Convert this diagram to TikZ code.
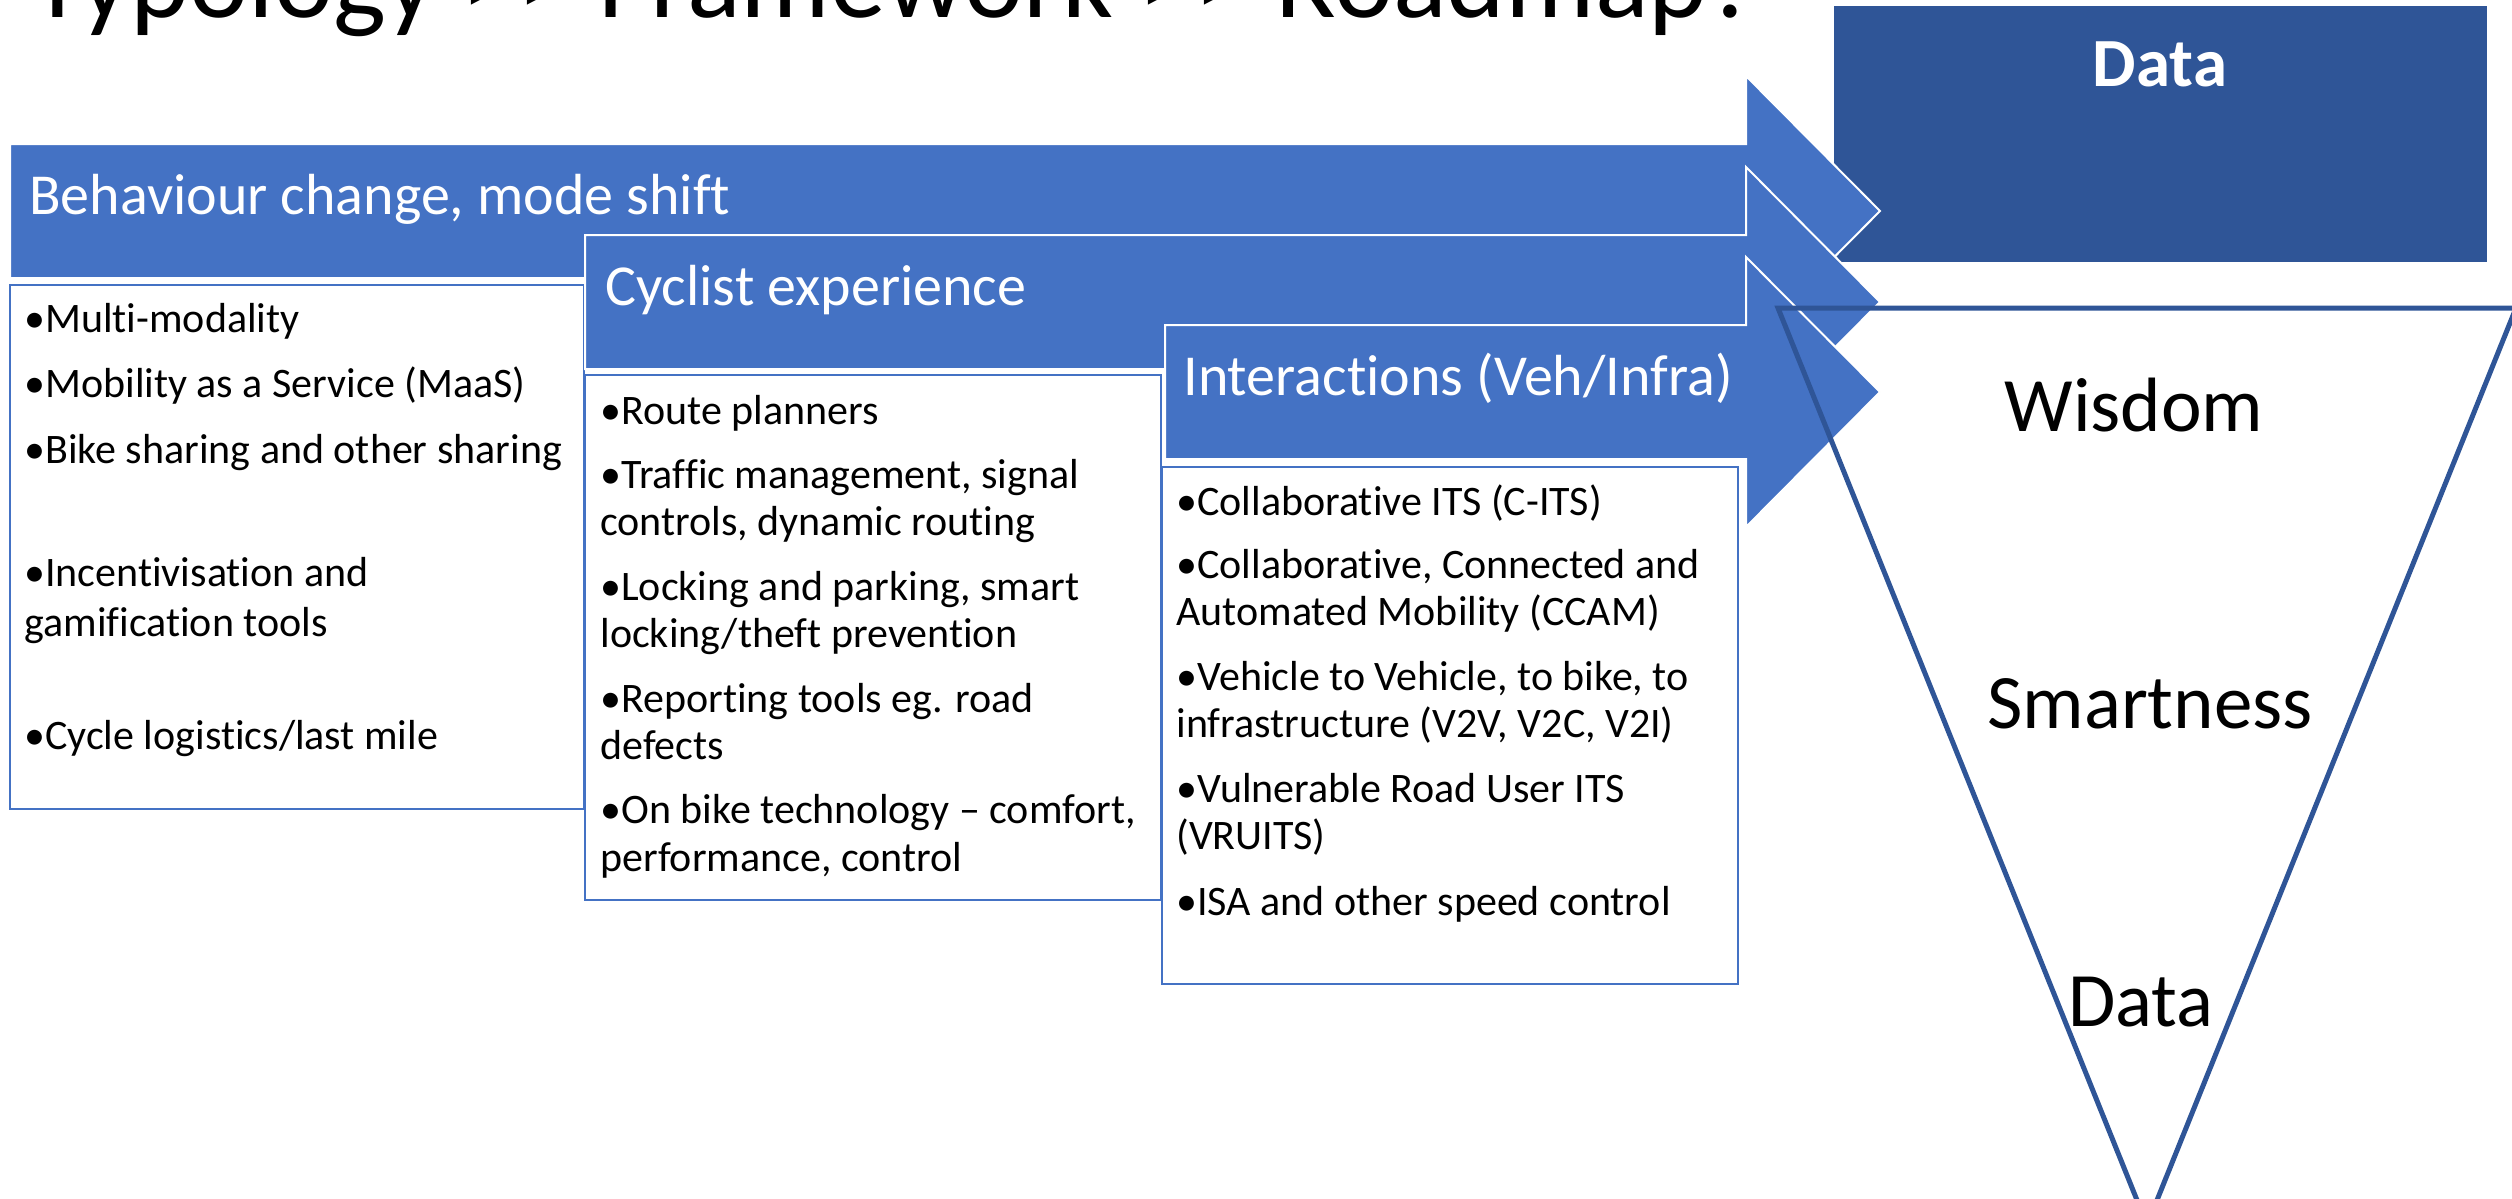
\documentclass[tikz,border=0pt]{standalone}
\usepackage{fontspec}
\setmainfont{Carlito}[Ligatures={NoCommon}]
\definecolor{arrowblue}{HTML}{4472C4}
\definecolor{darkblue}{HTML}{2F5597}
\tikzset{
  flowarrow/.style={fill=arrowblue, draw=white, line width=1pt, line join=miter},
  listbox/.style={draw=arrowblue, line width=1.25pt, fill=white},
  headtxt/.style={anchor=base west, inner sep=0pt, text=white, font=\fontsize{29pt}{34pt}\selectfont},
  bodytxt/.style={anchor=base west, inner sep=0pt, font=\fontsize{21pt}{25pt}\selectfont},
  pyrtxt/.style={anchor=base, inner sep=0pt, font=\fontsize{38.5pt}{46pt}\selectfont},
}
\begin{document}
\begin{tikzpicture}[x=0.5pt,y=-0.5pt]
\useasboundingbox (0,0) rectangle (2512,1199);
\clip (0,0) rectangle (2512,1199);
\fill[white] (0,0) rectangle (2512,1199);

% title (cut at the top, as in the reference)
\node[anchor=base west, inner sep=0pt, font=\fontsize{56pt}{60pt}\selectfont] (title) at (30,18) {Typology >\kern0pt> Framework >\kern0pt> Roadmap?};

% Data box
\fill[darkblue] (1834,6) rectangle (2487,262);
\node[anchor=base, inner sep=0pt, text=white, font=\fontsize{34.5pt}{40pt}\selectfont\bfseries] (datahead) at (2160,86) {Data};

% list boxes
\draw[listbox] (10,285) rectangle (584,809);
\draw[listbox] (585,375) rectangle (1161,900);
\draw[listbox] (1162,467) rectangle (1738,984);

% arrows
\path[flowarrow] (10,144) -- (1746,144) -- (1746,76) -- (1880,211) -- (1746,346) -- (1746,278) -- (10,278) -- cycle;
\path[flowarrow] (585,235) -- (1746,235) -- (1746,167) -- (1880,302) -- (1746,437) -- (1746,369) -- (585,369) -- cycle;
\path[flowarrow] (1165,325) -- (1746,325) -- (1746,257) -- (1880,392) -- (1746,527) -- (1746,459) -- (1165,459) -- cycle;

\node[headtxt] (h1) at (29,214) {Behaviour change, mode shift};
\node[headtxt] (h2) at (605,305) {Cyclist experience};
\node[headtxt] (h3) at (1183,395) {Interactions (Veh/Infra)};

% box 1 text
\node[bodytxt] (a1) at (24,332) {•Multi-modality};
\node[bodytxt] (a2) at (24,397.5) {•Mobility as a Service (MaaS)};
\node[bodytxt] (a3) at (24,463) {•Bike sharing and other sharing};
\node[bodytxt] (a4) at (24,586) {•Incentivisation and};
\node[bodytxt] (a5) at (24,636) {gamification tools};
\node[bodytxt] (a6) at (24,749) {•Cycle logistics/last mile};

% box 2 text
\node[bodytxt] (b1) at (600,424) {•Route planners};
\node[bodytxt] (b2) at (600,488) {•Traffic management, signal};
\node[bodytxt] (b3) at (600,535) {controls, dynamic routing};
\node[bodytxt] (b4) at (600,600) {•Locking and parking, smart};
\node[bodytxt] (b5) at (600,647.5) {locking/theft prevention};
\node[bodytxt] (b6) at (600,712) {•Reporting tools eg. road};
\node[bodytxt] (b7) at (600,759) {defects};
\node[bodytxt] (b8) at (600,823.6) {•On bike technology – comfort,};
\node[bodytxt] (b9) at (600,871) {performance, control};

% box 3 text
\node[bodytxt] (c1) at (1176,515) {•Collaborative ITS (C-ITS)};
\node[bodytxt] (c2) at (1176,578.6) {•Collaborative, Connected and};
\node[bodytxt] (c3) at (1176,625.7) {Automated Mobility (CCAM)};
\node[bodytxt] (c4) at (1176,690) {•Vehicle to Vehicle, to bike, to};
\node[bodytxt] (c5) at (1176,737) {infrastructure (V2V, V2C, V2I)};
\node[bodytxt] (c6) at (1176,802.5) {•Vulnerable Road User ITS};
\node[bodytxt] (c7) at (1176,849) {(VRUITS)};
\node[bodytxt] (c8) at (1176,915) {•ISA and other speed control};

% inverted triangle
\draw[darkblue, line width=2.5pt, line join=miter] (1778,308) -- (2516,308) -- (2147,1225) -- cycle;
\node[pyrtxt] (wis) at (2134,431) {Wisdom};
\node[pyrtxt] (sma) at (2150,728) {Smartness};
\node[pyrtxt] (dat) at (2141,1026) {Data};
\end{tikzpicture}
\end{document}
